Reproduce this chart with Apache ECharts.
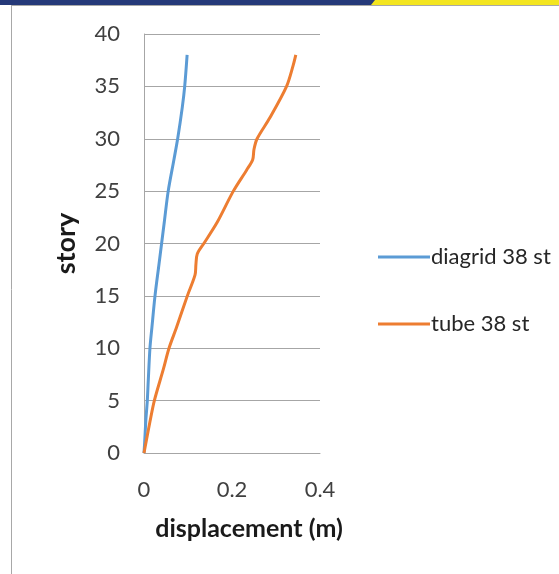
<!DOCTYPE html>
<html>
<head>
<meta charset="utf-8">
<script src="https://cdn.jsdelivr.net/npm/echarts@6/dist/echarts.min.js"></script>
<style>
  html, body { margin: 0; padding: 0; background: #fff; }
  #chart { width: 559px; height: 574px; }
</style>
</head>
<body>
<div id="chart"></div>
<script>
// story levels and displacements (m)
const diagridStories = [0, 1, 3, 5, 7, 10, 12, 15, 18, 20, 22, 25, 28, 30, 33, 35, 38]
const diagridDisp = [0, 0.0015, 0.004, 0.0075, 0.0098, 0.0135, 0.018, 0.025, 0.034, 0.040, 0.046,
  0.055, 0.068, 0.0765, 0.087, 0.0925, 0.098]

const tubeStories = [0, 1, 3, 5, 8, 10, 12, 15, 17, 18, 19, 20, 22, 25, 27, 28, 29, 30, 32, 35, 37, 38]
const tubeDisp = [0, 0.0045, 0.0136, 0.0235, 0.044, 0.0568, 0.074, 0.0985, 0.116, 0.118, 0.121,
  0.136, 0.166, 0.203, 0.233, 0.247, 0.250, 0.257, 0.286, 0.324, 0.339, 0.345]

const seriesNames = ['diagrid 38 st', 'tube 38 st']
const seriesColors = ['#5b9bd5', '#ed7d31']

function pairs(xs, ys) {
  return ys.map((y, i) => [xs[i], y])
}

const myChart = echarts.init(document.getElementById('chart'))
const font = 'Lato, "Liberation Sans", sans-serif'

function legendAt(name, top) {
  return {
    orient: 'vertical',
    left: 373,
    top: top,
    icon: 'rect',
    itemWidth: 52,
    itemHeight: 3,
    textStyle: { fontSize: 22, color: '#262626', fontFamily: font, padding: [0, 0, 0, -4] },
    data: [name]
  }
}

let option = {
  animation: false,
  textStyle: { fontFamily: font },
  graphic: [
    { type: 'rect', shape: { x: 0, y: 0, width: 559, height: 5 }, style: { fill: '#253979' }, silent: true },
    { type: 'polygon', shape: { points: [[371, 5], [375, 0], [559, 0], [559, 5]] }, style: { fill: '#f3e51f' }, silent: true },
    { type: 'line', shape: { x1: 11, y1: 5.5, x2: 559, y2: 5.5 }, style: { stroke: '#a8a8a8', lineWidth: 1 }, silent: true },
    { type: 'line', shape: { x1: 11.5, y1: 5, x2: 11.5, y2: 574 }, style: { stroke: '#a8a8a8', lineWidth: 1 }, silent: true }
  ],
  grid: {
    left: 144,
    top: 34,
    width: 176,
    height: 419
  },
  legend: [legendAt(seriesNames[0], 241), legendAt(seriesNames[1], 308)],
  xAxis: {
    type: 'value',
    min: 0,
    max: 0.4,
    interval: 0.2,
    name: 'displacement (m)',
    nameLocation: 'middle',
    nameGap: 63,
    nameTextStyle: { fontSize: 25, fontWeight: 'bold', color: '#1a1a1a', fontFamily: font, padding: [0, 0, 0, 34] },
    axisLine: { show: true, lineStyle: { color: '#a6a6a6', width: 1 } },
    axisTick: { show: false },
    splitLine: { show: false },
    axisLabel: { fontSize: 22, color: '#404040', margin: 26, fontFamily: font }
  },
  yAxis: {
    type: 'value',
    min: 0,
    max: 40,
    interval: 5,
    name: 'story',
    nameLocation: 'middle',
    nameGap: 64,
    nameRotate: 90,
    nameTextStyle: { fontSize: 27, fontWeight: 'bold', color: '#1a1a1a', fontFamily: font },
    axisLine: { show: true, lineStyle: { color: '#a6a6a6', width: 1 } },
    axisTick: { show: false },
    splitLine: { show: true, lineStyle: { color: '#a6a6a6', width: 1 } },
    axisLabel: { fontSize: 22, color: '#404040', margin: 24, fontFamily: font }
  },
  series: [
    {
      name: seriesNames[0],
      type: 'line',
      data: pairs(diagridDisp, diagridStories),
      smooth: 0.3,
      symbol: 'none',
      lineStyle: { color: seriesColors[0], width: 3 },
      itemStyle: { color: seriesColors[0] }
    },
    {
      name: seriesNames[1],
      type: 'line',
      data: pairs(tubeDisp, tubeStories),
      smooth: 0.3,
      symbol: 'none',
      lineStyle: { color: seriesColors[1], width: 3 },
      itemStyle: { color: seriesColors[1] }
    }
  ]
}
myChart.setOption(option)
</script>
</body>
</html>
